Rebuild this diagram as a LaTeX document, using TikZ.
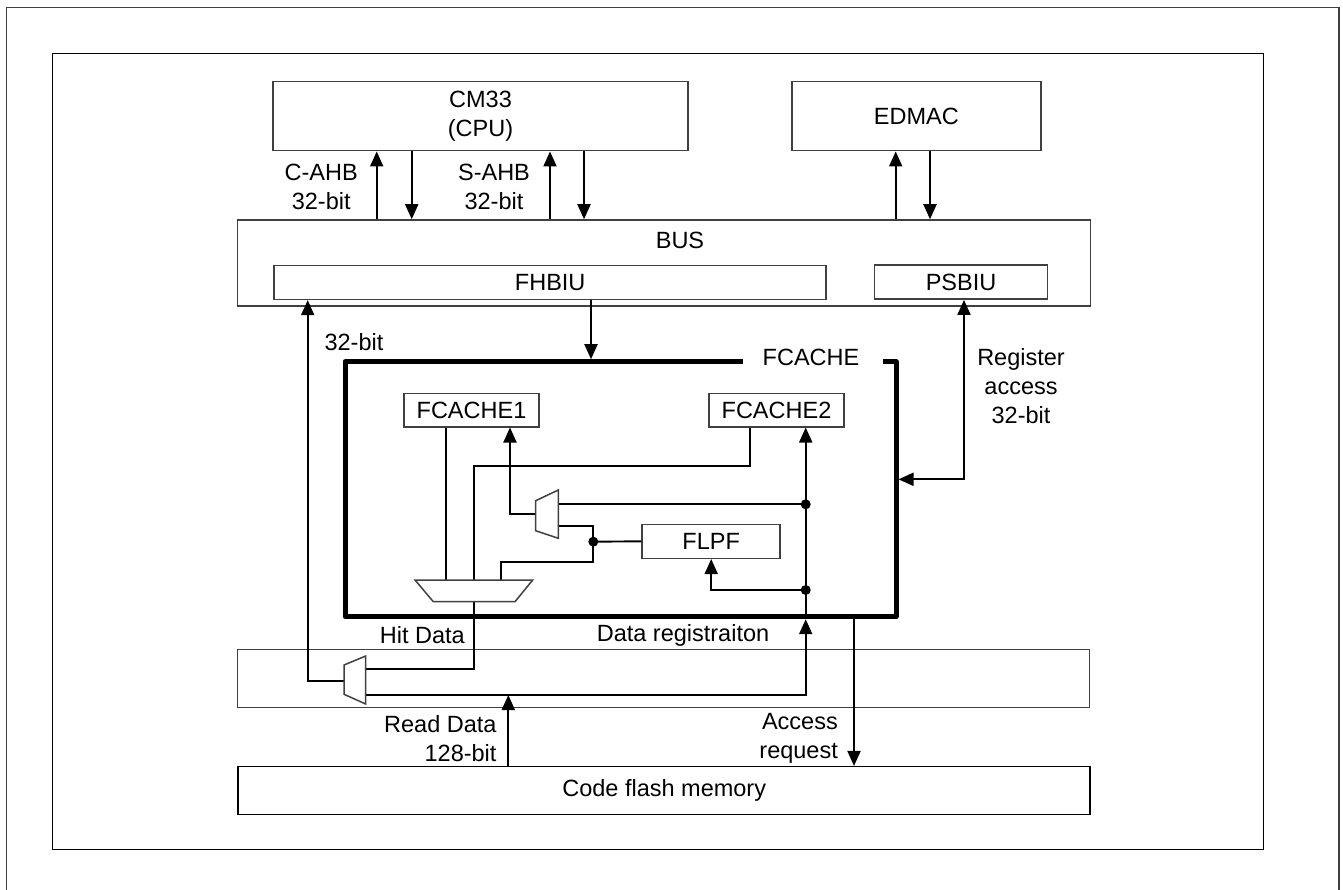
\documentclass[tikz,border=0pt]{standalone}
\usepackage{fontspec}
\setmainfont{Liberation Sans}
\usetikzlibrary{positioning, arrows.meta, calc}

\tikzset{
  blk/.style={draw=black!75, line width=1.5pt, inner sep=0pt, align=center},
  wire/.style={line width=1.9pt},
  arr/.style={wire, -{Triangle[length=15pt, width=13pt]}},
  darr/.style={wire, {Triangle[length=15pt, width=13pt]}-{Triangle[length=15pt, width=13pt]}},
  lbl/.style={inner sep=0pt, align=center},
  mux/.style={draw=black!75, line width=1.5pt, fill=white}
}

\begin{document}
\begin{tikzpicture}[x=1pt, y=-1pt, font=\fontsize{23.5}{29}\selectfont]
  \useasboundingbox (0,0) rectangle (1343,890);
  % frames
  \draw[black!75, line width=1.5pt] (6.7,890) -- (6.7,7.3) -- (1339,7.3) -- (1339,890);
  \draw[line width=1.5pt] (52.7,53.3) rectangle (1263.3,849.3);

  % masters and bus
  \node[blk, minimum width=415pt, minimum height=69pt] (cpu) at (480.5,116.2) {CM33\\(CPU)};
  \node[blk, minimum width=249pt, minimum height=69pt] (edmac) at (916.3,116.2) {EDMAC};
  \node[blk, minimum width=853pt, minimum height=86pt] (bus) at (663.9,263) {};
  \node[lbl] (buslbl) at (680,240) {BUS};
  \node[blk, minimum width=552pt, minimum height=34pt] (fhbiu) at (550.2,282.4) {FHBIU};
  \node[blk, minimum width=173pt, minimum height=34pt] (psbiu) at (961,282.2) {PSBIU};

  % FCACHE
  \node[minimum width=551pt, minimum height=255pt, inner sep=0pt, outer sep=2.5pt] (fc) at (620.5,489.2) {};
  \draw[line width=5pt, line join=round] (742.5,361.7) -- (345,361.7) -- (345,616.7) -- (896,616.7) -- (896,361.7) -- (882.7,361.7);
  \node[lbl] (fclbl) at (811,357) {FCACHE};
  \node[blk, minimum width=135pt, minimum height=33.5pt] (fc1) at (471.5,410) {FCACHE1};
  \node[blk, minimum width=135pt, minimum height=33.5pt] (fc2) at (776.5,410) {FCACHE2};
  \node[blk, minimum width=138pt, minimum height=34pt] (flpf) at (711.2,541.3) {FLPF};

  % read buffer and flash
  \node[blk, minimum width=852pt, minimum height=58pt] (rdbuf) at (663.3,678.3) {};
  \node[blk, draw=black, minimum width=852pt, minimum height=47.6pt] (flash) at (664.2,790.5) {Code flash memory};

  % mux ports and junctions
  \coordinate (m1o) at (535.7,514);
  \coordinate (m1a) at (558.3,504.3);
  \coordinate (m1b) at (558.3,525.7);
  \coordinate (m0o) at (474,601.7);
  \coordinate (m2o) at (344,680.7);
  \coordinate (m2a) at (365.7,669.3);
  \coordinate (m2b) at (365.7,695);
  \coordinate (j1) at (805.7,504.3);
  \coordinate (j2) at (805.7,590);
  \coordinate (j3) at (593.3,541.7);

  % bus arrows
  \draw[arr] (bus.north -| 376.7,0) -- (cpu.south -| 376.7,0);
  \draw[arr] (cpu.south -| 411.7,0) -- (bus.north -| 411.7,0);
  \draw[arr] (bus.north -| 550,0) -- (cpu.south -| 550,0);
  \draw[arr] (cpu.south -| 584,0) -- (bus.north -| 584,0);
  \draw[arr] (bus.north -| 895.7,0) -- (edmac.south -| 895.7,0);
  \draw[arr] (edmac.south -| 930,0) -- (bus.north -| 930,0);
  \draw[arr] (fhbiu.south -| 591,0) -- (fc.north -| 591,0);
  \draw[darr] (psbiu.south -| 964,0) |- (fc.east |- 0,479.3);

  % inside FCACHE
  \draw[wire] (fc1.south -| 446,0) -- (446,580);
  \draw[wire] (fc2.south -| 750,0) |- (474,466) -- (474,580);
  \draw[arr] (m1o) -| (fc1.south -| 510,0);
  \draw[wire] (m1a) -- (j1);
  \draw[wire] (m1b) -| (j3) |- (501,562.3) -- (501,580);
  \draw[wire] (j3) -- (flpf.west);
  \draw[arr] (j2) -| (flpf.south);
  \draw[arr] (fc.south -| j1) -- (fc2.south -| j1);

  % lower paths
  \draw[wire] (m0o) |- (m2a);
  \draw[arr] (m2o) -| (fhbiu.south -| 307.7,0);
  \draw[arr] (m2b) -| (fc.south -| j1);
  \draw[arr] (flash.north -| 508.3,0) -- (m2b -| 508.3,0);
  \draw[arr] (fc.south -| 854,0) -- (flash.north -| 854,0);

  % muxes
  \draw[mux] (535.7,500.7) -- (558.3,490) -- (558.3,538.3) -- (535.7,530.7) -- cycle;
  \draw[mux] (415,580) -- (532.7,580) -- (515,601.7) -- (433.3,601.7) -- cycle;
  \draw[mux] (344,665) -- (365.7,656) -- (365.7,704) -- (344,694.3) -- cycle;
  \fill (j1) circle (5pt) (j2) circle (5pt) (j3) circle (5pt);

  % labels
  \node[lbl] (cahb) at (321.2,186.7) {C-AHB\\32-bit};
  \node[lbl] (sahb) at (494,186.7) {S-AHB\\32-bit};
  \node[lbl] (w32) at (354,341.7) {32-bit};
  \node[lbl] (regacc) at (1021,386) {Register\\access\\32-bit};
  \node[lbl, anchor=east] (hitlbl) at (465,635) {Hit Data};
  \node[lbl] (reglbl) at (683,635) {Data registraiton};
  \node[lbl, align=right, anchor=east] (rdlbl) at (496.7,738.5) {Read Data\\128-bit};
  \node[lbl, align=right, anchor=east] (acclbl) at (838,738.5) {Access\\request};
\end{tikzpicture}
\end{document}
